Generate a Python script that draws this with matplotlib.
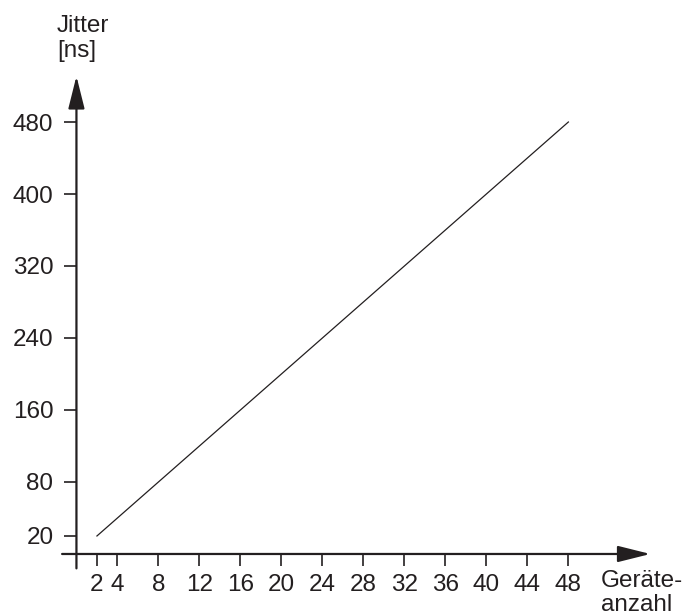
import matplotlib.pyplot as plt

plt.rcParams['font.family'] = ['Liberation Sans', 'DejaVu Sans']

# data
devices = [2, 48]
jitter = [20, 480]
x_ticks = [2, 4, 8, 12, 16, 20, 24, 28, 32, 36, 40, 44, 48]
y_ticks = [20, 80, 160, 240, 320, 400, 480]

ink = "#231f20"

fig = plt.figure(figsize=(6.94, 6.15), dpi=100)
ax = fig.add_axes([0.088, 0.0758, 0.8565, 0.8063])
ax.set_xlim(-1.5, 56.5)
ax.set_ylim(-16, 535)

ax.plot(devices, jitter, color=ink, lw=0.9)

# axes drawn through zero, with arrow heads
for s in ["top", "right"]:
    ax.spines[s].set_visible(False)
ax.spines["left"].set_position(("data", 0))
ax.spines["bottom"].set_position(("data", 0))
ax.spines["left"].set_visible(False)
ax.spines["bottom"].set_visible(False)

arrow = dict(arrowstyle="-|>,head_length=2.0,head_width=0.5", lw=1.6,
             color=ink, shrinkA=0, shrinkB=0, mutation_scale=10)
ax.annotate("", xy=(0, 531), xytext=(0, -16), arrowprops=arrow)
ax.annotate("", xy=(56, 0), xytext=(-1.4, 0), arrowprops=arrow)

ax.set_xticks(x_ticks)
ax.set_yticks(y_ticks)
ax.tick_params(direction="out", length=8.6, width=1.2, color=ink,
               labelcolor=ink, labelsize=17.5)
ax.tick_params(axis="y", pad=8)
ax.tick_params(axis="x", pad=6)

fig.text(57 / 694, 1 - 15 / 615, "Jitter\n[ns]", ha="left", va="top",
         fontsize=17.5, color=ink, linespacing=1.15)
fig.text(601 / 694, 1 - 570 / 615, "Geräte-\nanzahl", ha="left", va="top",
         fontsize=17.5, color=ink, linespacing=1.12)

fig.savefig("out.png", dpi=100)
